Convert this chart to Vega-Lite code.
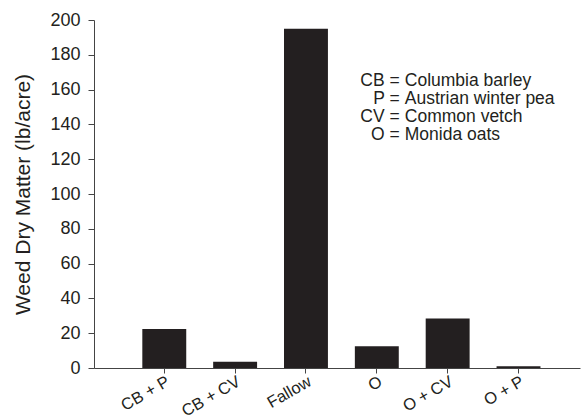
{
  "$schema": "https://vega.github.io/schema/vega-lite/v6.json",
  "width": 486,
  "height": 348,
  "autosize": {"type": "none"},
  "padding": {"left": 94, "top": 20, "right": 1, "bottom": 49},
  "background": "white",
  "config": {
    "view": {"stroke": null},
    "font": "Liberation Sans",
    "axis": {
      "grid": false,
      "domainColor": "#444444",
      "tickColor": "#444444",
      "labelColor": "#231f20",
      "titleColor": "#231f20",
      "labelFont": "Liberation Sans",
      "titleFont": "Liberation Sans",
      "titleFontWeight": "normal",
      "labelOverlap": false
    },
    "axisX": {
      "labelAngle": -30,
      "labelAlign": "right",
      "labelBaseline": "top",
      "labelFontSize": 16.5,
      "tickSize": 5,
      "labelPadding": 0,
      "labelBound": false
    },
    "axisY": {
      "titleFontSize": 21,
      "titlePadding": 16,
      "labelFontSize": 18,
      "tickSize": 6,
      "labelPadding": 8,
      "tickCount": 10
    }
  },
  "layer": [
    {
      "data": {
        "values": [
          {"treatment": "CB + P", "dm": 22.4},
          {"treatment": "CB + CV", "dm": 3.6},
          {"treatment": "Fallow", "dm": 195},
          {"treatment": "O", "dm": 12.5},
          {"treatment": "O + CV", "dm": 28.5},
          {"treatment": "O + P", "dm": 1}
        ]
      },
      "mark": {"type": "bar", "color": "#231f20"},
      "encoding": {
        "x": {
          "field": "treatment",
          "type": "nominal",
          "sort": null,
          "scale": {"paddingInner": 0.38, "paddingOuter": 0.62, "align": 0.55},
          "axis": {"title": null, "labelAngle": -30}
        },
        "y": {
          "field": "dm",
          "type": "quantitative",
          "scale": {"domain": [0, 200], "nice": false},
          "axis": {"title": "Weed Dry Matter (lb/acre)"}
        }
      }
    },
    {
      "mark": {"type": "rule", "color": "#444444", "strokeWidth": 1},
      "encoding": {"y": {"datum": 200, "type": "quantitative"}}
    },
    {
      "data": {"values": [{"abbr": "CB =", "desc": "Columbia barley"}]},
      "encoding": {
        "x": {"datum": "O", "type": "nominal", "bandPosition": 1},
        "y": {"datum": 164.9, "type": "quantitative"}
      },
      "layer": [
        {"mark": {"type": "text", "align": "right", "baseline": "middle", "fontSize": 17.5, "color": "#231f20", "dx": 1}, "encoding": {"text": {"field": "abbr"}}},
        {"mark": {"type": "text", "align": "left", "baseline": "middle", "fontSize": 17.5, "color": "#231f20", "dx": 6}, "encoding": {"text": {"field": "desc"}}}
      ]
    },
    {
      "data": {"values": [{"abbr": "P =", "desc": "Austrian winter pea"}]},
      "encoding": {
        "x": {"datum": "O", "type": "nominal", "bandPosition": 1},
        "y": {"datum": 154.6, "type": "quantitative"}
      },
      "layer": [
        {"mark": {"type": "text", "align": "right", "baseline": "middle", "fontSize": 17.5, "color": "#231f20", "dx": 1}, "encoding": {"text": {"field": "abbr"}}},
        {"mark": {"type": "text", "align": "left", "baseline": "middle", "fontSize": 17.5, "color": "#231f20", "dx": 6}, "encoding": {"text": {"field": "desc"}}}
      ]
    },
    {
      "data": {"values": [{"abbr": "CV =", "desc": "Common vetch"}]},
      "encoding": {
        "x": {"datum": "O", "type": "nominal", "bandPosition": 1},
        "y": {"datum": 144.3, "type": "quantitative"}
      },
      "layer": [
        {"mark": {"type": "text", "align": "right", "baseline": "middle", "fontSize": 17.5, "color": "#231f20", "dx": 1}, "encoding": {"text": {"field": "abbr"}}},
        {"mark": {"type": "text", "align": "left", "baseline": "middle", "fontSize": 17.5, "color": "#231f20", "dx": 6}, "encoding": {"text": {"field": "desc"}}}
      ]
    },
    {
      "data": {"values": [{"abbr": "O =", "desc": "Monida oats"}]},
      "encoding": {
        "x": {"datum": "O", "type": "nominal", "bandPosition": 1},
        "y": {"datum": 133.9, "type": "quantitative"}
      },
      "layer": [
        {"mark": {"type": "text", "align": "right", "baseline": "middle", "fontSize": 17.5, "color": "#231f20", "dx": 1}, "encoding": {"text": {"field": "abbr"}}},
        {"mark": {"type": "text", "align": "left", "baseline": "middle", "fontSize": 17.5, "color": "#231f20", "dx": 6}, "encoding": {"text": {"field": "desc"}}}
      ]
    }
  ]
}
